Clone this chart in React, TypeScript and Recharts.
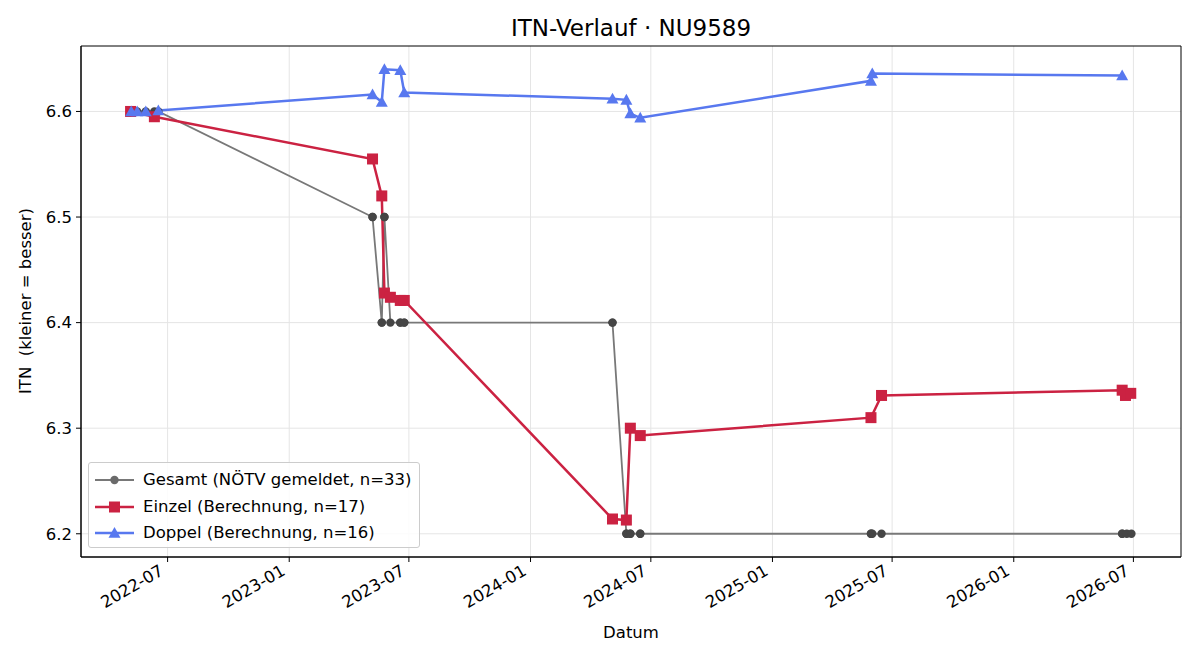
import React from "react";
import {
  LineChart,
  Line,
  XAxis,
  YAxis,
  CartesianGrid,
  ReferenceArea,
} from "recharts";

// Einzel (singles) ITN per match date
const einzelDates = [
  "2022-05-06", "2022-06-11",
  "2023-05-07", "2023-05-21", "2023-05-25", "2023-06-03", "2023-06-18", "2023-06-24",
  "2024-05-04", "2024-05-25", "2024-05-31", "2024-06-15",
  "2025-05-30", "2025-06-15",
  "2026-06-14", "2026-06-19", "2026-06-27",
];
const einzelItn = [
  6.6, 6.595,
  6.555, 6.52, 6.428, 6.424, 6.421, 6.421,
  6.214, 6.213, 6.3, 6.293,
  6.31, 6.331,
  6.336, 6.331, 6.333,
];

// Doppel (doubles) ITN per match date
const doppelDates = [
  "2022-05-07", "2022-05-16", "2022-05-29", "2022-06-17",
  "2023-05-07", "2023-05-21", "2023-05-25", "2023-06-18", "2023-06-24",
  "2024-05-04", "2024-05-25", "2024-05-31", "2024-06-15",
  "2025-05-30", "2025-06-01",
  "2026-06-14",
];
const doppelItn = [
  6.6, 6.6, 6.6, 6.601,
  6.616, 6.609, 6.64, 6.639, 6.618,
  6.612, 6.611, 6.598, 6.594,
  6.629, 6.636,
  6.634,
];

// Gesamt: reported NÖTV value on every match date
const gesamtDates = [
  "2022-05-06", "2022-05-07", "2022-05-16", "2022-05-29", "2022-06-11", "2022-06-17",
  "2023-05-07", "2023-05-07", "2023-05-21", "2023-05-21", "2023-05-25", "2023-05-25",
  "2023-06-03", "2023-06-18", "2023-06-18", "2023-06-24", "2023-06-24",
  "2024-05-04", "2024-05-04", "2024-05-25", "2024-05-25", "2024-05-31", "2024-05-31",
  "2024-06-15", "2024-06-15",
  "2025-05-30", "2025-05-30", "2025-06-01", "2025-06-15",
  "2026-06-14", "2026-06-14", "2026-06-21", "2026-06-28",
];
const gesamtItn = [
  6.6, 6.6, 6.6, 6.6, 6.6, 6.6,
  6.5, 6.5, 6.4, 6.4, 6.5, 6.5,
  6.4, 6.4, 6.4, 6.4, 6.4,
  6.4, 6.4, 6.2, 6.2, 6.2, 6.2,
  6.2, 6.2,
  6.2, 6.2, 6.2, 6.2,
  6.2, 6.2, 6.2, 6.2,
];

const xTickDates = [
  "2022-07-01", "2023-01-01", "2023-07-01", "2024-01-01", "2024-07-01",
  "2025-01-01", "2025-07-01", "2026-01-01", "2026-07-01",
];
const yTicks = [6.2, 6.3, 6.4, 6.5, 6.6];

const toTime = (s: string) => Date.parse(s + "T00:00:00Z");
const build = (dates: string[], vals: number[]) =>
  dates.map((d, i) => ({ t: toTime(d), itn: vals[i] }));

const gesamt = build(gesamtDates, gesamtItn);
const einzel = build(einzelDates, einzelItn);
const doppel = build(doppelDates, doppelItn);

const xDomain = [toTime("2022-02-20"), toTime("2026-09-11")];
const yDomain = [6.178, 6.662];

const FONT = "'DejaVu Sans', sans-serif";
const FS = 16.5;
const GREY = "#787878";
const GREY_DOT = "#454545";
const RED = "#cb2242";
const BLUE = "#5878ef";

const fmtMonth = (t: number) => {
  const d = new Date(t);
  return `${d.getUTCFullYear()}-${String(d.getUTCMonth() + 1).padStart(2, "0")}`;
};

// rotated month labels, right end just below the tick
const DateTick = (props: any) => {
  const { x, y, payload } = props;
  return (
    <g transform={`translate(${x - 3},${y + 10})`}>
      <text
        x={0}
        y={0}
        textAnchor="end"
        transform="rotate(-30)"
        fontFamily={FONT}
        fontSize={FS}
        fill="#000"
      >
        {fmtMonth(payload.value)}
      </text>
    </g>
  );
};

const circleDot = (p: any) => (
  <circle key={`g-${p.index}`} cx={p.cx} cy={p.cy} r={4.2} fill={GREY_DOT} />
);

const squareDot = (p: any) => (
  <rect
    key={`e-${p.index}`}
    x={p.cx - 5.5}
    y={p.cy - 5.5}
    width={11}
    height={11}
    fill={RED}
  />
);

const triangle = (cx: number, cy: number, s: number) =>
  `${cx},${cy - s} ${cx - s},${cy + s * 0.8} ${cx + s},${cy + s * 0.8}`;

const triangleDot = (p: any) => (
  <polygon key={`d-${p.index}`} points={triangle(p.cx, p.cy, 6)} fill={BLUE} />
);

const legendRows = [
  { label: "Gesamt (NÖTV gemeldet, n=33)", color: GREY, marker: "circle" },
  { label: "Einzel (Berechnung, n=17)", color: RED, marker: "square" },
  { label: "Doppel (Berechnung, n=16)", color: BLUE, marker: "triangle" },
];

const LegendBox = () => (
  <div
    style={{
      position: "absolute",
      left: 88,
      top: 462,
      width: 330,
      height: 84,
      background: "rgba(255,255,255,0.85)",
      border: "1px solid #cccccc",
      borderRadius: 3,
      fontFamily: FONT,
      fontSize: FS,
    }}
  >
    {legendRows.map((r, i) => (
      <div
        key={r.label}
        style={{ position: "absolute", left: 0, top: 5 + i * 26.5, height: 24, width: "100%" }}
      >
        <svg width={50} height={24} style={{ position: "absolute", left: 6, top: 0 }}>
          <line x1={0} y1={12} x2={39} y2={12} stroke={r.color} strokeWidth={r.marker === "circle" ? 1.8 : 2.4} />
          {r.marker === "circle" && <circle cx={19.5} cy={12} r={4.2} fill="#6a6a6a" />}
          {r.marker === "square" && <rect x={14} y={6.5} width={11} height={11} fill={r.color} />}
          {r.marker === "triangle" && <polygon points={triangle(19.5, 12, 6)} fill={r.color} />}
        </svg>
        <span style={{ position: "absolute", left: 54, top: 1, whiteSpace: "nowrap", lineHeight: "22px" }}>
          {r.label}
        </span>
      </div>
    ))}
  </div>
);

const textBase: React.CSSProperties = {
  position: "absolute",
  fontFamily: FONT,
  whiteSpace: "pre",
  color: "#000",
};

export default function App() {
  return (
    <div style={{ position: "absolute", left: 0, top: 0, width: 1200, height: 660, background: "#fff" }}>
      <div style={{ ...textBase, left: 81, width: 1100, top: 14, textAlign: "center", fontSize: 23, lineHeight: "28px" }}>
        ITN-Verlauf · NU9589
      </div>
      <LineChart
        width={1200}
        height={660}
        margin={{ top: 46, right: 19, bottom: 33, left: 21 }}
      >
        <CartesianGrid stroke="#e5e5e5" strokeWidth={1} horizontalValues={yTicks} verticalValues={xTickDates.map(toTime)} />
        <XAxis
          type="number"
          dataKey="t"
          domain={xDomain}
          ticks={xTickDates.map(toTime)}
          tick={<DateTick />}
          tickSize={5}
          stroke="#000"
          height={70}
          allowDataOverflow
        />
        <YAxis
          type="number"
          dataKey="itn"
          domain={yDomain}
          ticks={yTicks}
          tickFormatter={(v: number) => v.toFixed(1)}
          tick={{ fontFamily: FONT, fontSize: FS, fill: "#000" }}
          tickSize={5}
          tickMargin={4}
          stroke="#000"
          width={60}
          allowDataOverflow
        />
        <ReferenceArea
          x1={xDomain[0]}
          x2={xDomain[1]}
          y1={yDomain[0]}
          y2={yDomain[1]}
          fill="none"
          stroke="#000"
          strokeWidth={1}
          ifOverflow="visible"
        />
        <Line
          data={gesamt}
          dataKey="itn"
          type="linear"
          stroke={GREY}
          strokeWidth={1.8}
          dot={circleDot}
          activeDot={false}
          isAnimationActive={false}
        />
        <Line
          data={einzel}
          dataKey="itn"
          type="linear"
          stroke={RED}
          strokeWidth={2.5}
          dot={squareDot}
          activeDot={false}
          isAnimationActive={false}
        />
        <Line
          data={doppel}
          dataKey="itn"
          type="linear"
          stroke={BLUE}
          strokeWidth={2.5}
          dot={triangleDot}
          activeDot={false}
          isAnimationActive={false}
        />
      </LineChart>
      <div style={{ ...textBase, left: 81, width: 1100, top: 622, textAlign: "center", fontSize: FS, lineHeight: "22px" }}>
        Datum
      </div>
      <div
        style={{
          ...textBase,
          left: 26,
          top: 301,
          fontSize: FS,
          lineHeight: "20px",
          transform: "translate(-50%, -50%) rotate(-90deg)",
        }}
      >
        ITN  (kleiner = besser)
      </div>
      <LegendBox />
    </div>
  );
}
